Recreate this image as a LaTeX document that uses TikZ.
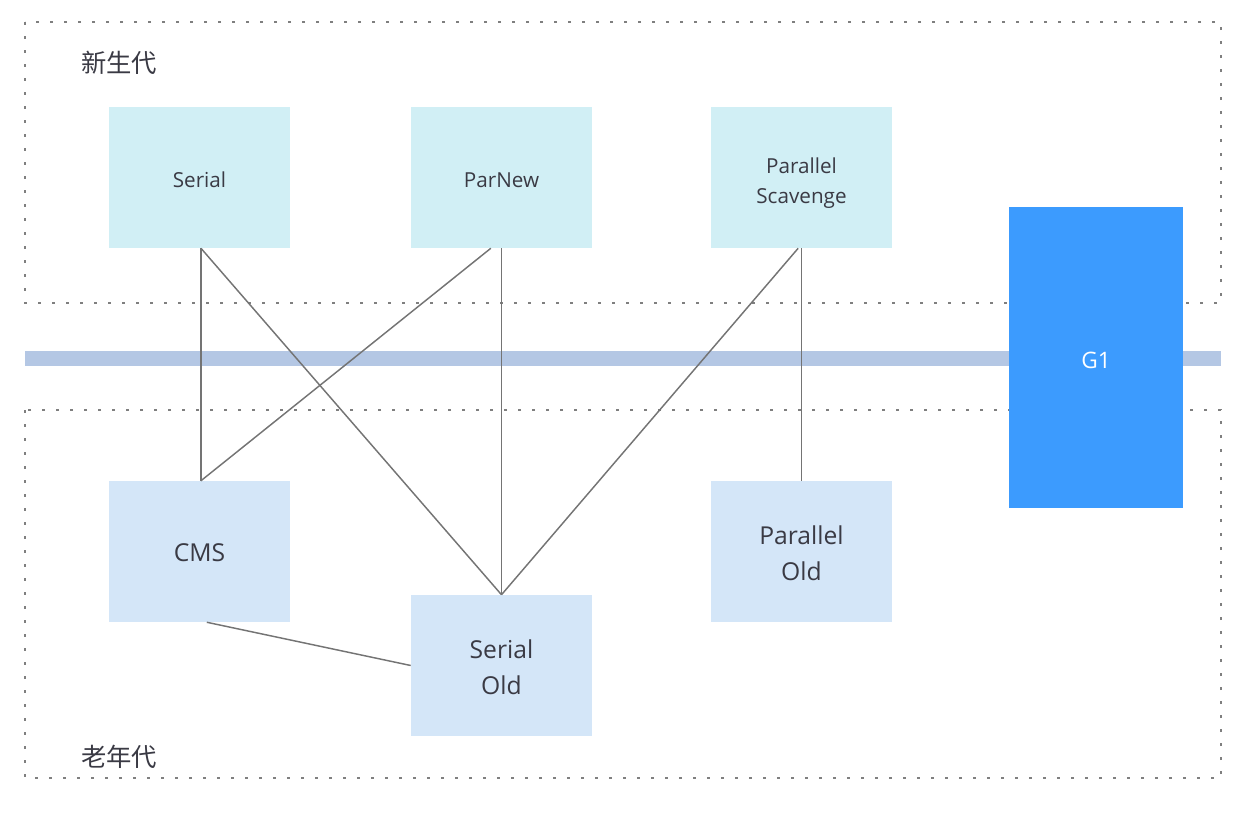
\documentclass[tikz,border=0pt]{standalone}
\usepackage{fontspec}
\setmainfont{Open Sans}
\newfontfamily\cjk{Noto Sans CJK SC}
\usepackage{tikz}
\usetikzlibrary{positioning}
\definecolor{youngfill}{HTML}{D1EFF5}
\definecolor{oldfill}{HTML}{D4E6F8}
\definecolor{gonefill}{HTML}{3C9BFE}
\definecolor{bandfill}{HTML}{B4C7E4}
\definecolor{linkgray}{HTML}{747474}
\definecolor{areagray}{HTML}{7F7F7F}
\definecolor{txtgray}{HTML}{3A3A44}
\tikzset{
  young/.style={fill=youngfill,minimum width=181*0.75pt,minimum height=141*0.75pt,inner sep=0pt,align=center,font=\fontsize{15.5}{22.5}\selectfont,text=txtgray,text height=15pt,text depth=0pt},
  old/.style={fill=oldfill,minimum width=181*0.75pt,minimum height=141*0.75pt,inner sep=0pt,align=center,font=\fontsize{18.5}{27}\selectfont,text=txtgray,text height=15pt,text depth=0pt},
  area/.style={draw=areagray,line width=1.4pt,dash pattern=on 2pt off 8.5pt},
  link/.style={draw=linkgray,line width=1.1pt},
}
\begin{document}
\begin{tikzpicture}[x=0.75pt,y=0.75pt,yscale=-1,xscale=1]
\useasboundingbox (0,0) rectangle (1250,814);

%Shape: Rectangle [id:young area]
\draw [area] (25,22) rectangle (1221,303);
%Shape: Rectangle [id:old area]
\draw [area] (25,410) rectangle (1221,778);
%Shape: Rectangle [id:band]
\fill [bandfill] (25,351) rectangle (1221,366);

% Text Node
\draw (80,63) node [anchor=west][inner sep=0.75pt][font=\cjk\fontsize{19}{19}\selectfont,text=txtgray] (younglbl) {新生代};
% Text Node
\draw (80,757) node [anchor=west][inner sep=0.75pt][font=\cjk\fontsize{19}{19}\selectfont,text=txtgray] (oldlbl) {老年代};

% Young nodes
\node [young] (serial) at (199.5,177.5) {Serial};
\node [young] (parnew) at (501.5,177.5) {ParNew};
\node [young,text height=39pt] (pscav) at (801.5,177.5) {Parallel\\Scavenge};
% Old nodes
\node [old] (cms) at (199.5,551.5) {CMS};
\node [old,text height=42.8pt] (pold) at (801.5,551.5) {Parallel\\Old};
\node [old,text height=42.8pt] (sold) at (501.5,665.5) {Serial\\Old};
% G1
\node [fill=gonefill,minimum width=174*0.75pt,minimum height=301*0.75pt,inner sep=0pt,text=white,font=\fontsize{17}{17}\selectfont,text height=16.6pt,text depth=0pt] (gone) at (1096,357.5) {G1};

% Links
\draw [link] ([xshift=1.1pt]serial.south) -- ([xshift=1.1pt]cms.north);
\draw [link] ([xshift=1.1pt]serial.south) -- (sold.north);
\draw [link] ([xshift=-8pt]parnew.south) -- ([xshift=1.1pt]cms.north);
\draw [link] (parnew.south) -- (sold.north);
\draw [link] ([xshift=-2.5pt]pscav.south) -- (sold.north);
\draw [link] (pscav.south) -- (pold.north);
\draw [link] ([xshift=5.5pt]cms.south) -- (sold.west);

\end{tikzpicture}
\end{document}
